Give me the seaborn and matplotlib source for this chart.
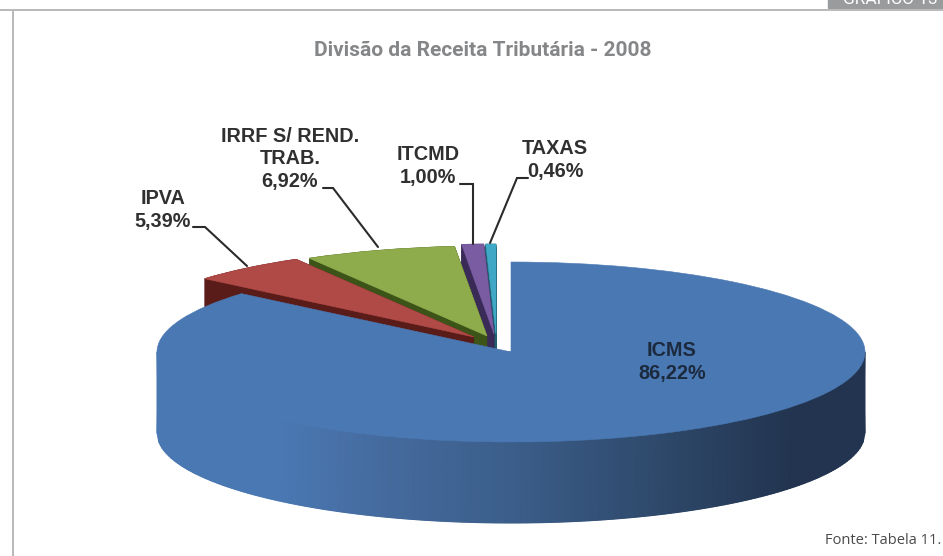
import numpy as np
import matplotlib
matplotlib.use("Agg")
import matplotlib.pyplot as plt
from matplotlib.colors import LinearSegmentedColormap
from matplotlib.lines import Line2D
from matplotlib.patches import Rectangle
import seaborn as sns

CATEGORIES = ["ICMS", "IPVA", "IRRF S/ REND.\nTRAB.", "ITCMD", "TAXAS"]
SHARES = [86.22, 5.39, 6.92, 1.00, 0.46]
TOP_COLORS = ["#4a78b3", "#b04a47", "#8fac4c", "#7a5ca3", "#3ea8c6"]
SIDE_COLORS = ["#4a78b3", "#5a1c18", "#3c5418", "#3a2a58", "#1f5f70"]
TITLE = "Divisão da Receita Tributária - 2008"
SOURCE = "Fonte: Tabela 11."
TAB_TEXT = "GRÁFICO 13"

W, H = 943, 556
CX, CY, RX, RY = 511, 352, 354, 90   # ellipse of the pie top, pixels
DEPTH = 81
# how far each slice is pulled out of the pie, pixels
SHIFTS = [(0, 0), (-37, -15), (-24, -16), (-17, -18), (-15, -18)]
LABEL_POS = [(672, 362), (163, 210), (290, 159), (428, 166), (555, 160)]
LEADERS = {
    1: [(193, 227), (205, 227), (247, 266)],
    2: [(323, 188), (333, 188), (378, 247)],
    3: [(460, 184), (473, 184), (473, 244)],
    4: [(528, 178), (517, 178), (490, 243)],
}
SIDE_GRADIENT = [(0.0, "#4a78b3"), (0.17, "#4a78b3"), (0.34, "#44699b"),
                 (0.5, "#3b5e8a"), (0.7, "#2f4a6c"), (0.9, "#22344f"), (1.0, "#22344f")]

sns.set_theme(style="white")
plt.rcParams["font.family"] = ["Liberation Sans", "DejaVu Sans"]


def ux(px):
    return (np.asarray(px, dtype=float) - CX) / RX


def uy(py):
    return (CY - np.asarray(py, dtype=float)) / RY


def pct(v):
    return f"{v:.2f}%".replace(".", ",")


def draw_slice(ax, i, dx, dy, color):
    # full pie so the angles come from SHARES, keep only slice i
    wedges, _ = ax.pie(SHARES, colors=sns.color_palette([color] * len(SHARES)),
                       startangle=90, counterclock=False,
                       center=(dx / RX, -dy / RY), radius=1,
                       wedgeprops={"linewidth": 0.4, "edgecolor": color})
    for j, w in enumerate(wedges):
        if j != i:
            w.remove()
    return wedges[i]


fig = plt.figure(figsize=(W / 100, H / 100), dpi=100, facecolor="white")
ax = fig.add_axes([0, 0, 1, 1])

# back to front: small slices first, big blue one last
for i in [4, 3, 2, 1]:
    dx, dy = SHIFTS[i]
    for d in np.linspace(DEPTH, 0, 163):
        draw_slice(ax, i, dx, dy + d, SIDE_COLORS[i])
    draw_slice(ax, i, dx, dy, TOP_COLORS[i])

# rim of the blue slice, shaded left to right
cmap = LinearSegmentedColormap.from_list("rim", SIDE_GRADIENT)
xs = np.linspace(-1, 1, 400)
lower = -np.sqrt(1 - xs ** 2) - DEPTH / RY
ax.pcolormesh(np.vstack([xs, xs]), np.vstack([np.zeros_like(xs), lower]),
              np.vstack([xs, xs]), cmap=cmap, vmin=-1, vmax=1, shading="gouraud")
draw_slice(ax, 0, 0, 0, TOP_COLORS[0])

for i, pts in LEADERS.items():
    p = np.array(pts)
    ax.plot(ux(p[:, 0]), uy(p[:, 1]), color="#2b2b2b", lw=1.5, solid_joinstyle="miter")

ax.set_aspect("auto")
ax.set_xlim(ux(0), ux(W))
ax.set_ylim(uy(H), uy(0))
ax.axis("off")

# frame and tab, in figure pixels
frame = dict(color="#b9b9bb", lw=1.4, transform=fig.transFigure)
fig.add_artist(Line2D([0, 1], [1 - 9.5 / H] * 2, **frame))
fig.add_artist(Line2D([12.5 / W] * 2, [0, 1 - 9.5 / H], **frame))
fig.add_artist(Rectangle((828 / W, 1 - 8 / H), 115 / W, 8 / H, color="#9a9b9d",
                         transform=fig.transFigure))
# the tab text is cropped by the page edge in the original too
fig.text(890 / W, 1 - 4.5 / H, TAB_TEXT, color="white", fontsize=12.5, family="Roboto",
         ha="center", va="baseline")

fig.text(483 / W, 1 - 50 / H, TITLE, color="#858688", fontsize=15, family="Roboto",
         fontweight="bold", ha="center", va="center")
fig.text(941 / W, 1 - 540 / H, SOURCE, color="#4a4a4a", fontsize=10.5, family="Open Sans",
         ha="right", va="center")

for i, (name, share) in enumerate(zip(CATEGORIES, SHARES)):
    x, y = LABEL_POS[i]
    fig.text(x / W, 1 - y / H, f"{name}\n{pct(share)}",
             color="#1c2a3e" if i == 0 else "#303030", fontsize=14.3, fontweight="bold",
             ha="center", va="center", linespacing=1.24)

fig.savefig("out.png", dpi=100)
